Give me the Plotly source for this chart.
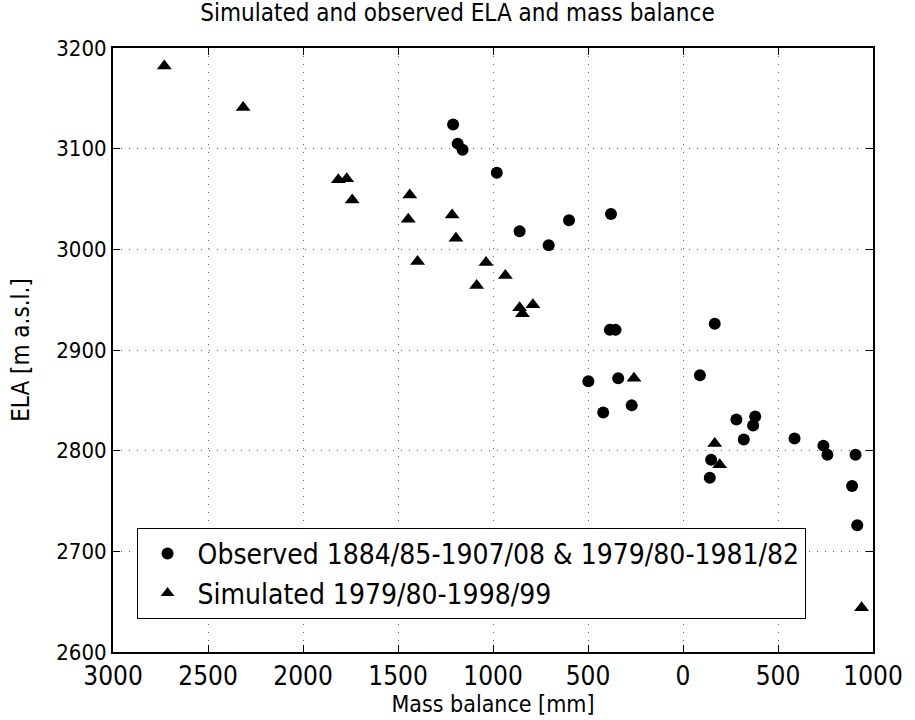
import plotly.graph_objects as go

# Observed (circles)
obs_mb = [-1210, -1186, -1160, -980, -860, -707, -600, -379, -385, -355, 167,
          -498, -341, -420, -270, 89, 281, 380, 369, 320, 587, 739, 760, 908,
          148, 141, 890, 917]
obs_ela = [3124, 3105, 3099, 3076, 3018, 3004, 3029, 3035, 2920, 2920, 2926,
           2869, 2872, 2838, 2845, 2875, 2831, 2834, 2825, 2811, 2812, 2805, 2796, 2796,
           2791, 2773, 2765, 2726]

# Simulated (triangles)
sim_mb = [-2730, -2315, -1814, -1770, -1741, -1438, -1446, -1215, -1195, -1397,
          -1037, -1086, -935, -860, -845, -790, -258, 167, 193, 940]
sim_ela = [3182, 3141, 3069, 3070, 3049, 3054, 3030, 3034, 3011, 2988,
           2987, 2964, 2974, 2942, 2936, 2945, 2872, 2807, 2786, 2644]

x_tickvals = [-3000, -2500, -2000, -1500, -1000, -500, 0, 500, 1000]
x_ticktext = ["3000", "2500", "2000", "1500", "1000", "500", "0", "500", "1000"]
y_tickvals = [2600, 2700, 2800, 2900, 3000, 3100, 3200]

FONT = "DejaVu Sans Condensed, Liberation Sans Narrow, DejaVu Sans, sans-serif"

fig = go.Figure()
fig.add_trace(go.Scatter(
    x=obs_mb, y=obs_ela, mode="markers",
    name="Observed 1884/85-1907/08 & 1979/80-1981/82",
    marker=dict(symbol="circle", size=12, color="black"),
))
fig.add_trace(go.Scatter(
    x=sim_mb, y=sim_ela, mode="markers",
    name="Simulated 1979/80-1998/99",
    marker=dict(symbol="triangle-up", size=13, color="black"),
))

axis_common = dict(
    showline=True, linecolor="black", linewidth=2, mirror="ticks",
    ticks="inside", ticklen=7, tickcolor="black", tickwidth=1,
    showgrid=True, gridcolor="rgba(0,0,0,0.6)", griddash="1px,7px", gridwidth=1,
    zeroline=False,
)

fig.update_xaxes(
    range=[-3000, 1000], tickvals=x_tickvals, ticktext=x_ticktext,
    tickfont=dict(family=FONT, size=26, color="black"),
    ticklabeloverflow="allow",
    title=dict(text="Mass balance [mm]", font=dict(family=FONT, size=23, color="black"), standoff=1),
    **axis_common,
)
fig.update_yaxes(
    range=[2600, 3200], tickvals=y_tickvals,
    tickfont=dict(family=FONT, size=22, color="black"),
    title=dict(text="ELA [m a.s.l.]", font=dict(family=FONT, size=24, color="black"), standoff=20),
    **axis_common,
)

fig.update_layout(
    width=915, height=720,
    margin=dict(l=113, r=30, t=48, b=64),
    paper_bgcolor="white", plot_bgcolor="white",
    title=dict(text="Simulated and observed ELA and mass balance",
               font=dict(family=FONT, size=24, color="black"),
               x=0.5, xref="container", xanchor="center",
               y=0.982, yref="container", yanchor="middle"),
    legend=dict(
        x=0.031, y=0.2056, xanchor="left", yanchor="top",
        bgcolor="white", bordercolor="black", borderwidth=1,
        font=dict(family=FONT, size=28, color="black"),
        itemsizing="constant", itemwidth=50,
    ),
    showlegend=True,
)

fig.write_html("out.html")
